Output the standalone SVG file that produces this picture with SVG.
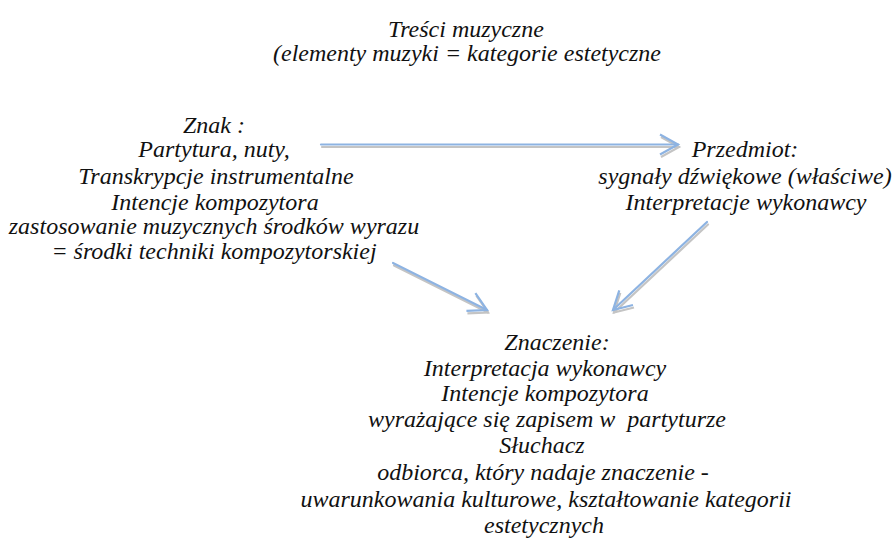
<svg xmlns="http://www.w3.org/2000/svg" width="892" height="545" viewBox="0 0 892 545">
<defs>
<style>
.t text{font-family:"Liberation Serif","Times New Roman",serif;font-style:italic;font-size:24px;fill:#111;text-anchor:middle}
.ln{fill:none;stroke-width:2.2;stroke-linecap:round}
.blue{stroke:#8db3e2}
.gray{stroke:#c4c4c4}
</style>
<marker id="hb" viewBox="-20 -12 24 24" markerWidth="24" markerHeight="24" refX="0" refY="0" orient="auto" markerUnits="userSpaceOnUse">
<path d="M-18,-10 L0,0 L-18,10" fill="none" stroke="#8db3e2" stroke-width="2.2"/>
</marker>
<marker id="hg" viewBox="-20 -12 24 24" markerWidth="24" markerHeight="24" refX="0" refY="0" orient="auto" markerUnits="userSpaceOnUse">
<path d="M-18,-10 L0,0 L-18,10" fill="none" stroke="#c4c4c4" stroke-width="2.2"/>
</marker>
</defs>
<rect width="892" height="545" fill="#fff"/>

<g class="t">
<g id="tresci">
<text x="466" y="37">Treści muzyczne</text>
<text x="467" y="61">(elementy muzyki = kategorie estetyczne</text>
</g>

<g id="znak">
<text x="214" y="133">Znak :</text>
<text x="214" y="157">Partytura, nuty,</text>
<text x="216" y="184">Transkrypcje instrumentalne</text>
<text x="215" y="210">Intencje kompozytora</text>
<text x="214" y="234">zastosowanie muzycznych środków wyrazu</text>
<text x="214" y="259">= środki techniki kompozytorskiej</text>
</g>

<g id="przedmiot">
<text x="745" y="157">Przedmiot:</text>
<text x="745" y="184">sygnały dźwiękowe (właściwe)</text>
<text x="746" y="210">Interpretacje wykonawcy</text>
</g>

<g id="znaczenie">
<text x="557" y="350">Znaczenie:</text>
<text x="545" y="376">Interpretacja wykonawcy</text>
<text x="545" y="401">Intencje kompozytora</text>
<text x="547" y="427" xml:space="preserve">wyrażające się zapisem w  partyturze</text>
<text x="542" y="453">Słuchacz</text>
<text x="543" y="480">odbiorca, który nadaje znaczenie -</text>
<text x="546" y="507">uwarunkowania kulturowe, kształtowanie kategorii</text>
<text x="544" y="533">estetycznych</text>
</g>
</g>

<g id="connectors">
<g transform="translate(1,2.5)">
<path class="ln gray" d="M321,144.5 L678,144.5" marker-end="url(#hg)"/>
<path class="ln gray" d="M393,263 L487,310" marker-end="url(#hg)"/>
<path class="ln gray" d="M707,222 L613,310" marker-end="url(#hg)"/>
</g>
<path class="ln blue" d="M321,144.5 L678,144.5" marker-end="url(#hb)"/>
<path class="ln blue" d="M393,263 L487,310" marker-end="url(#hb)"/>
<path class="ln blue" d="M707,222 L613,310" marker-end="url(#hb)"/>
</g>
</svg>
